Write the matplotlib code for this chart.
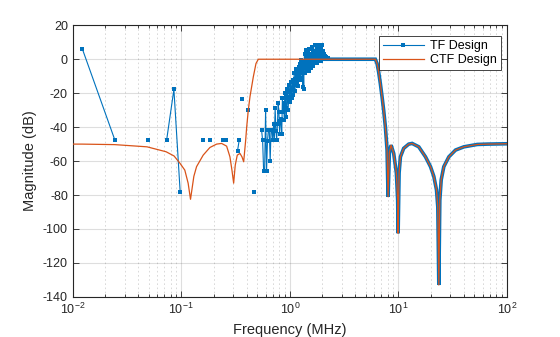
import numpy as np
import matplotlib
matplotlib.use("Agg")
import matplotlib.pyplot as plt
from matplotlib.ticker import LogLocator, NullFormatter

nan = np.nan

# CTF design response (MHz, dB)
ctf_freq = [0.0100, 0.0121, 0.0243, 0.0483, 0.0724, 0.0858, 0.0975, 0.1077, 0.1156, 0.1216,
            0.1305, 0.1382, 0.1591, 0.1834, 0.2115, 0.2352, 0.2617, 0.2807, 0.2929, 0.3037,
            0.3142, 0.3279, 0.3473, 0.3624, 0.3758, 0.3921, 0.4005, 0.4144, 0.4297, 0.4609,
            0.4880, 0.5126, 1.0, 2.0, 3.0, 4.0, 5.0,
            6.14, 6.37, 6.59, 6.83, 7.08, 7.33, 7.60, 7.76, 7.88, 8.05,
            8.27, 8.58, 9.07, 9.60, 9.87, 9.96, 10.17, 10.46, 11.21, 12.48,
            13.41, 15.44, 17.81, 19.81, 21.25, 22.50, 23.13, 23.63, 24.13, 24.86,
            26.27, 29.23, 33.70, 40.23, 53.5, 66.2, 100.0]
ctf_db = [-50.0, -50.0, -50.3, -51.6, -54.5, -57.0, -61.4, -65.3, -73.0, -82.5,
          -69.0, -63.3, -56.5, -52.0, -50.0, -49.6, -51.2, -57.5, -65.3, -73.0,
          -62.4, -56.5, -55.5, -57.5, -60.4, -47.6, -40.0, -30.0, -22.0, -10.4,
          -2.5, 0.0, 0.0, 0.0, 0.0, 0.0, 0.0,
          0.0, -2.5, -7.5, -14.3, -22.0, -30.0, -39.8, -47.6, -53.5, -81.0,
          -55.0, -50.6, -55.5, -67.0, -83.0, -102.5, -67.0, -57.5, -52.5, -50.0,
          -49.6, -51.6, -57.5, -63.3, -69.0, -77.0, -87.0, -133.0, -83.0, -71.0,
          -63.3, -57.5, -53.5, -51.6, -50.2, -50.0, -49.8]

# TF design: freqz bins (spacing in MHz), -Inf bins kept as nan
tf_bin_mhz = 0.01221
tf_db = ([6.3, -47.6, nan, -47.6, nan, -47.6, -17.8, -78.4, nan, nan,
          nan, nan, -47.6, nan, -47.6, nan, nan, nan, nan, -47.6,
          -47.6, nan, nan, nan, nan, nan, -54.0, -47.6, nan, -23.7,
          nan, nan, nan, -30.0, nan, nan, nan, -78.4, nan, nan,
          nan, nan, nan, nan]
         + [-41.8, -47.8, -65.9, -65.9, -30.0, -65.9, -48.0]
         + [-41.8, -41.8, -60.0, -41.8, -41.8, -47.8, -38.4, -47.4, -28.6, -42.0,
            -47.4, -38.0, -26.0, -31.0, -44.0]
         + [-36.5, -35.5, -44.0, -23.0, -31.0, -26.0, -36.0, -20.0, -29.0, -34.0,
            -17.3, -23.0, -30.0, -22.0, -15.3, -25.0]
         + [-19.4, -13.3, -23.0, -17.0, -12.0, -21.0, -15.0, -8.0, -19.0, -11.5,
            -15.0, -5.5, -14.0, -9.0, -6.5, -16.0, -4.5, -10.0, -12.0, -3.0,
            -8.0, -0.6, -6.0]
         + [-11.0, -2.0, -16.3, -5.0, -17.3, -1.0, 3.3, -4.0, -8.0, 1.0,
            5.3, -2.0, -6.0, 2.0, -3.0, 4.0, -1.0, -7.0, 6.3, 0.0,
            -3.0, 3.0, -5.0, 1.0, -2.0]
         + [7.3, 0.0, -3.0, 4.0, -4.0, 2.0, 0.5, 5.0, -1.0, 1.0,
            8.2, 3.0, -1.0, 0.0, 6.0, -2.0, 2.0, 3.5, 0.0, 7.0,
            0.0, 1.5, 8.2, 2.0, -1.0, 5.0, 0.5, 3.0, -1.0, 6.5]
         + [1.0, 8.5, 2.0, 0.0, 3.0, 5.0, 0.0, 1.5, 3.0, 0.0,
            1.0, 2.0, 0.5, 0.0, 1.0, 1.5, 0.0, 0.5, 1.0, 0.0,
            0.5, 1.0, 0.0, 0.5, 0.0])

yticks = [-140, -120, -100, -80, -60, -40, -20, 0, 20]

blue = "#0072BD"
orange = "#D95319"
axcol = "#262626"

plt.rcParams["font.family"] = ["Liberation Sans", "DejaVu Sans"]
plt.rcParams["mathtext.default"] = "regular"
plt.rcParams["axes.unicode_minus"] = False

fig = plt.figure(figsize=(5.6, 3.37), dpi=100)
ax = fig.add_axes([0.13, 0.119, 0.775, 0.806])

ctf_f = np.array(ctf_freq)
ctf_m = np.array(ctf_db)
tf_f = tf_bin_mhz * np.arange(1, len(tf_db) + 1)

# dense part of TF response sits on top of the CTF curve (markers merge into a band)
hi = ctf_f >= 2.0
ax.plot(ctf_f[hi], ctf_m[hi], color=blue, lw=2.6, zorder=2, solid_joinstyle="miter")
h_tf, = ax.plot(tf_f, tf_db, color=blue, lw=0.8, marker="s", ms=2.2, mew=0,
                zorder=2, label="TF Design")
h_ctf, = ax.plot(ctf_f, ctf_m, color=orange, lw=0.9, zorder=3, label="CTF Design")

ax.set_xscale("log")
ax.set_xlim(0.01, 100)
ax.set_ylim(-140, 20)
ax.set_yticks(yticks)
ax.xaxis.set_major_locator(LogLocator(base=10, numticks=10))
ax.xaxis.set_minor_locator(LogLocator(base=10, subs=np.arange(2, 10), numticks=50))
ax.xaxis.set_minor_formatter(NullFormatter())

ax.grid(True, which="major", color=axcol, alpha=0.15, lw=0.8)
ax.grid(True, which="minor", axis="x", color=axcol, alpha=0.2, lw=0.6,
        linestyle=(0, (2, 3)))
ax.set_axisbelow(True)

for s in ax.spines.values():
    s.set_color(axcol)
    s.set_linewidth(0.8)
ax.tick_params(which="both", direction="in", top=True, right=True, colors=axcol,
               labelsize=9, width=0.6)
ax.tick_params(which="major", length=4)
ax.tick_params(which="minor", length=2)
for t in ax.get_xticklabels() + ax.get_yticklabels():
    t.set_color(axcol)

ax.set_xlabel("Frequency (MHz)", fontsize=10.5, color=axcol)
ax.set_ylabel("Magnitude (dB)", fontsize=10.5, color=axcol)

leg = ax.legend(handles=[h_tf, h_ctf], loc="upper right",
                bbox_to_anchor=(0.986, 0.96), borderaxespad=0, fontsize=9,
                handlelength=3.3, numpoints=1, fancybox=False, framealpha=1,
                edgecolor=axcol, borderpad=0.3, labelspacing=0.2, handletextpad=0.5)
leg.get_frame().set_linewidth(0.6)

fig.savefig("out.png", dpi=100)
